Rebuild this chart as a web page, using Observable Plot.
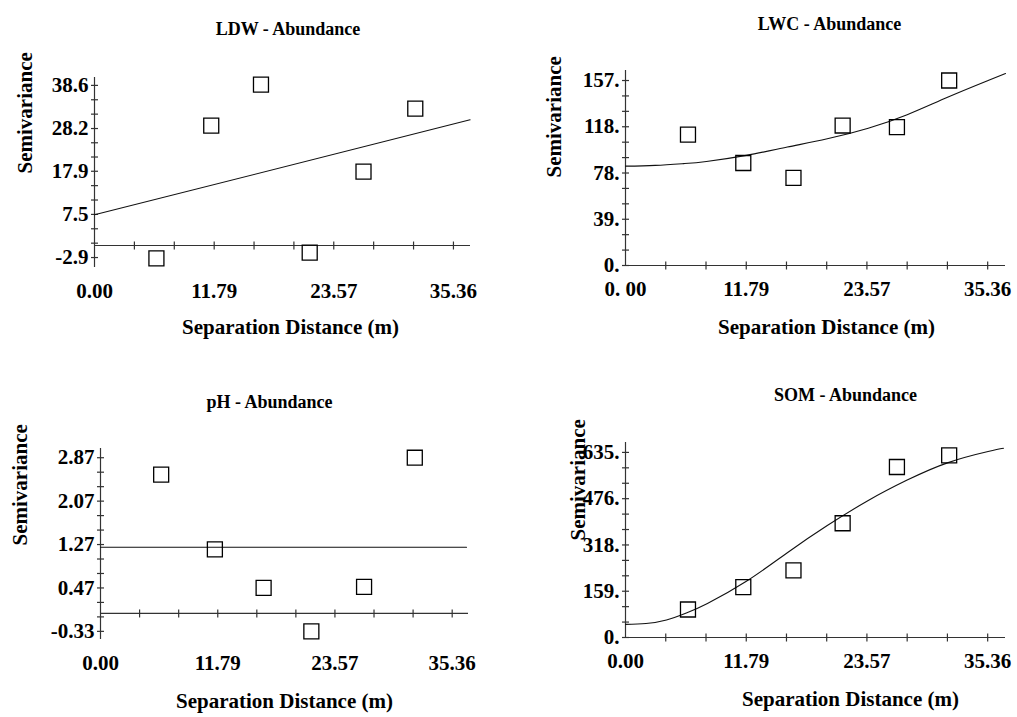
<!DOCTYPE html>
<html><head><meta charset="utf-8">
<script src="https://cdn.jsdelivr.net/npm/d3@7"></script>
<script src="https://cdn.jsdelivr.net/npm/@observablehq/plot@0.6"></script>
<style>
html,body{margin:0;padding:0;background:#fff;}
#chart{position:relative;width:1017px;height:717px;overflow:hidden;background:#fff;}
#chart .panel{position:absolute;}
#chart svg text{font-family:"Liberation Serif","Times New Roman",serif;}
</style></head><body><div id="chart"></div>
<script>
// ---- data ----
const lags = [6.1, 11.5, 16.4, 21.2, 26.5, 31.6];
const xTickValues = [0, 11.79, 23.57, 35.36];
const xTickLabels = ["0.00", "11.79", "23.57", "35.36"];
const xTickLabelsLWC = ["0. 00", "11.79", "23.57", "35.36"];
const xAxisTitle = "Separation Distance (m)";
const yAxisTitle = "Semivariance";

const ldwSemivariance = [-3.1, 28.9, 38.8, -1.7, 17.8, 33.0];
const ldwModelX = [0, 37.0];
const ldwModelY = [7.4, 30.3];
const ldwYTicks = [-2.9, 7.5, 17.9, 28.2, 38.6];
const ldwYLabels = ["-2.9", "7.5", "17.9", "28.2", "38.6"];

const lwcSemivariance = [111, 87, 74.4, 118.8, 117.4, 157];
const lwcModelX = [0, 2.9, 5.7, 7.9, 11.8, 15.8, 19.7, 23.7, 27.5, 31.5, 35.4, 37.1];
const lwcModelY = [84.3, 85.0, 86.5, 88.3, 93.5, 100.5, 107.5, 116.5, 128, 143, 157, 163];
const lwcYTicks = [0, 39.25, 78.5, 117.75, 157];
const lwcYLabels = ["0.", "39.", "78.", "118.", "157."];

const phSemivariance = [2.56, 1.18, 0.47, -0.33, 0.49, 2.87];
const phModelX = [0, 36.8];
const phModelY = [1.22, 1.22];
const phYTicks = [-0.33, 0.47, 1.27, 2.07, 2.87];
const phYLabels = ["-0.33", "0.47", "1.27", "2.07", "2.87"];

const somSemivariance = [96, 173, 230, 392, 585, 625];
const somModelX = [0, 2, 4, 6, 8, 11.8, 15.8, 19.7, 23.7, 27.5, 31.5, 35.4, 36.9];
const somModelY = [45, 48, 60, 85, 117, 193, 291, 384, 470, 540, 600, 638, 649];
const somYTicks = [0, 158.75, 317.5, 476.25, 635];
const somYLabels = ["0.", "159.", "318.", "476.", "635."];

// ---- helpers ----
const FONT = '"Liberation Serif", "Times New Roman", serif';
const axisColor = "#333";
const vTick = {draw(ctx, size) { const r = Math.sqrt(size / Math.PI); ctx.moveTo(0, -r); ctx.lineTo(0, r); }};
const hTick = {draw(ctx, size) { const r = Math.sqrt(size / Math.PI); ctx.moveTo(-r, 0); ctx.lineTo(r, 0); }};
function thirds(majors) {
  const out = [];
  for (let i = 0; i < majors.length; i++) {
    out.push(majors[i]);
    if (i < majors.length - 1) {
      const a = majors[i], b = majors[i + 1];
      out.push(a + (b - a) / 3, a + 2 * (b - a) / 3);
    }
  }
  return out;
}

function panel(cfg) {
  const [ox, oy] = cfg.origin, [w, h] = cfg.size, f = cfg.frame;
  const cx = (f.left + f.right) / 2, cy = (f.top + f.bottom) / 2;
  const pts = lags.map((x, i) => ({x, y: cfg.values[i]}));
  const model = cfg.modelX.map((x, i) => ({x, y: cfg.modelY[i]}));
  const yt = cfg.yTicks.map((v, i) => ({v, label: cfg.yLabels[i]}));
  const xt = xTickValues.map((v, i) => ({v, label: cfg.xLabels[i]}));
  const xminor = thirds(xTickValues).filter(v => v > 0);
  const yminor = thirds(cfg.yTicks);
  const bold = {fontWeight: "bold", fill: "#000", fontFamily: FONT};
  const svg = Plot.plot({
    width: w, height: h,
    marginLeft: f.left - ox, marginRight: ox + w - f.right,
    marginTop: f.top - oy, marginBottom: oy + h - f.bottom,
    style: {background: "transparent", fontFamily: FONT, overflow: "visible"},
    x: {domain: cfg.xDomain, axis: null},
    y: {domain: cfg.yDomain, axis: null},
    marks: [
      Plot.ruleX([0], {stroke: axisColor, strokeWidth: 1.2}),
      Plot.ruleY([0], {stroke: axisColor, strokeWidth: 1.2}),
      Plot.dot(xminor, {x: d => d, y: 0, symbol: vTick, r: 4, stroke: axisColor, fill: "none", strokeWidth: 1.2}),
      Plot.dot(yminor, {x: 0, y: d => d, symbol: hTick, r: 3.5, stroke: axisColor, fill: "none", strokeWidth: 1.2}),
      Plot.line(model, {x: "x", y: "y", stroke: "#111", strokeWidth: 1.1, curve: "natural"}),
      Plot.dot(pts, {x: "x", y: "y", symbol: "square", r: 8.46, stroke: "#000", fill: "none", strokeWidth: 1.3}),
      Plot.text(yt, {y: "v", text: "label", frameAnchor: "left", textAnchor: "end", dx: -6, fontSize: 21, ...bold}),
      Plot.text(xt, {x: "v", text: "label", frameAnchor: "bottom", dy: 30, fontSize: 21, ...bold}),
      Plot.text([cfg.title], {text: d => d, frameAnchor: "top", dx: cfg.titlePos[0] - cx, dy: cfg.titlePos[1] - f.top, fontSize: 18, ...bold}),
      Plot.text([xAxisTitle], {text: d => d, frameAnchor: "bottom", dx: cfg.xTitlePos[0] - cx, dy: cfg.xTitlePos[1] - f.bottom, fontSize: 21, ...bold}),
      Plot.text([yAxisTitle], {text: d => d, frameAnchor: "left", rotate: -90, dx: cfg.yTitlePos[0] - f.left, dy: cfg.yTitlePos[1] - cy, fontSize: 21, ...bold})
    ]
  });
  const div = document.createElement("div");
  div.className = "panel";
  div.style.left = ox + "px";
  div.style.top = oy + "px";
  div.appendChild(svg);
  document.getElementById("chart").appendChild(div);
}

panel({
  title: "LDW - Abundance", values: ldwSemivariance, modelX: ldwModelX, modelY: ldwModelY,
  yTicks: ldwYTicks, yLabels: ldwYLabels, xLabels: xTickLabels,
  xDomain: [0, 37.04], yDomain: [-5.3, 40.5],
  origin: [0, 0], size: [509, 359],
  frame: {left: 94, right: 470, top: 77, bottom: 267},
  titlePos: [287.5, 22], xTitlePos: [290, 333], yTitlePos: [25, 173]
});
panel({
  title: "LWC - Abundance", values: lwcSemivariance, modelX: lwcModelX, modelY: lwcModelY,
  yTicks: lwcYTicks, yLabels: lwcYLabels, xLabels: xTickLabelsLWC,
  xDomain: [0, 37.1], yDomain: [0, 165.5],
  origin: [509, 0], size: [508, 359],
  frame: {left: 625, right: 1005, top: 70, bottom: 265},
  titlePos: [829, 17], xTitlePos: [826, 333], yTitlePos: [554, 177]
});
panel({
  title: "pH - Abundance", values: phSemivariance, modelX: phModelX, modelY: phModelY,
  yTicks: phYTicks, yLabels: phYLabels, xLabels: xTickLabels,
  xDomain: [0, 37.0], yDomain: [-0.48, 3.04],
  origin: [0, 359], size: [509, 358],
  frame: {left: 100, right: 468, top: 448, bottom: 639},
  titlePos: [269, 395], xTitlePos: [284, 707], yTitlePos: [19.5, 545]
});
panel({
  title: "SOM - Abundance", values: somSemivariance, modelX: somModelX, modelY: somModelY,
  yTicks: somYTicks, yLabels: somYLabels, xLabels: xTickLabels,
  xDomain: [0, 37.1], yDomain: [0, 669],
  origin: [509, 359], size: [508, 358],
  frame: {left: 625, right: 1005, top: 442, bottom: 637},
  titlePos: [845, 388], xTitlePos: [850, 705], yTitlePos: [578, 540]
});
</script>
</body></html>
